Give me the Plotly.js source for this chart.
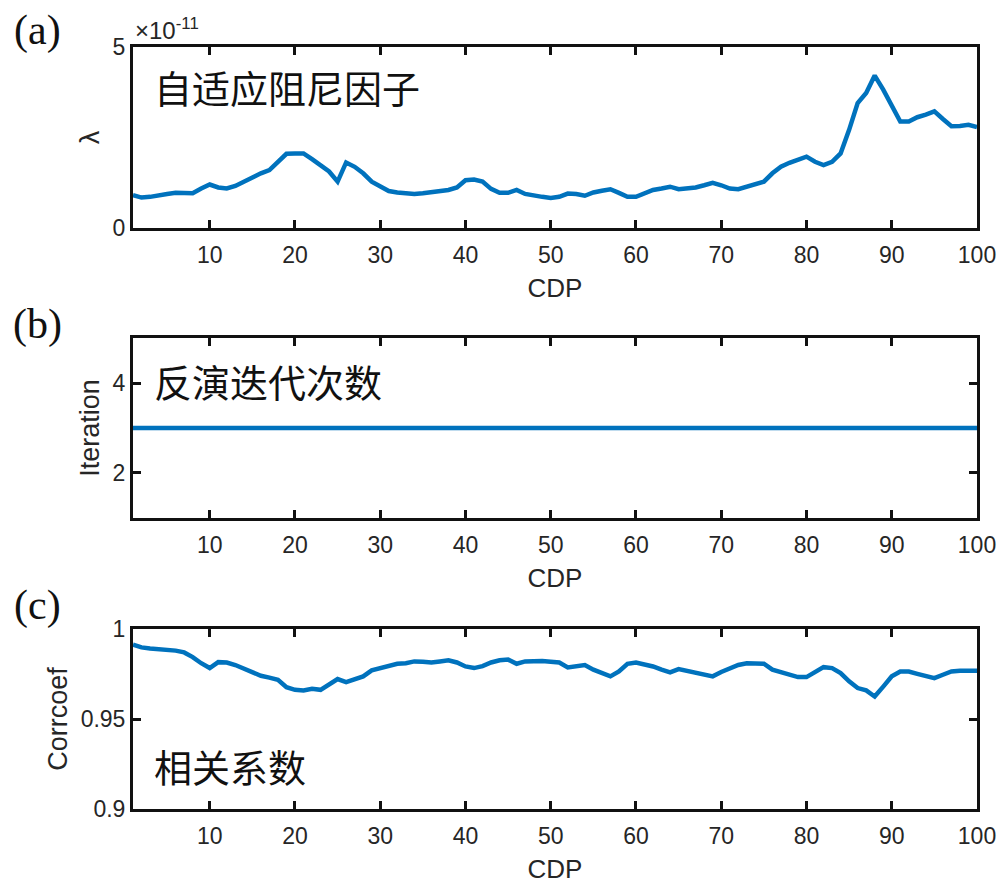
<!DOCTYPE html>
<html>
<head>
<meta charset="utf-8">
<script src="https://cdn.plot.ly/plotly-3.0.1.min.js"></script>
<style>html,body{margin:0;padding:0;background:#fff;}#chart{width:999px;height:884px;}</style>
</head>
<body>
<div id="chart"></div>
<script>
// ---- data ----
const cdp = [1,2,3,4,5,6,7,8,9,10,11,12,13,14,15,16,17,18,19,20,21,22,23,24,25,26,27,28,29,30,
  31,32,33,34,35,36,37,38,39,40,41,42,43,44,45,46,47,48,49,50,51,52,53,54,55,56,57,58,59,60,
  61,62,63,64,65,66,67,68,69,70,71,72,73,74,75,76,77,78,79,80,81,82,83,84,85,86,87,88,89,90,
  91,92,93,94,95,96,97,98,99,100];

// adaptive damping factor, in units of 1e-11
const lambdaVals = [0.91,0.84,0.86,0.91,0.94,0.97,0.97,0.96,1.09,1.20,
  1.12,1.09,1.16,1.28,1.37,1.51,1.60,1.83,2.05,2.06,
  2.06,1.90,1.74,1.56,1.28,1.81,1.69,1.51,1.28,1.14,
  1.02,0.98,0.96,0.94,0.96,0.99,1.03,1.05,1.12,1.32,
  1.34,1.28,1.08,0.97,0.97,1.05,0.94,0.89,0.86,0.83,
  0.86,0.95,0.94,0.89,0.98,1.03,1.07,0.97,0.86,0.86,
  0.97,1.05,1.09,1.14,1.07,1.09,1.12,1.18,1.25,1.18,
  1.09,1.07,1.14,1.23,1.28,1.51,1.69,1.80,1.90,1.97,
  1.83,1.74,1.83,2.06,2.71,3.45,3.73,4.21,3.82,3.36,
  2.94,2.94,3.06,3.13,3.22,3.01,2.81,2.82,2.85,2.79];

const iterationVals = [3,3,3,3,3,3,3,3,3,3,3,3,3,3,3,3,3,3,3,3,
  3,3,3,3,3,3,3,3,3,3,3,3,3,3,3,3,3,3,3,3,
  3,3,3,3,3,3,3,3,3,3,3,3,3,3,3,3,3,3,3,3,
  3,3,3,3,3,3,3,3,3,3,3,3,3,3,3,3,3,3,3,3,
  3,3,3,3,3,3,3,3,3,3,3,3,3,3,3,3,3,3,3,3];

const corrVals = [0.9913,0.9898,0.9892,0.9889,0.9885,0.9880,0.9870,0.9844,0.9810,0.9783,
  0.9816,0.9814,0.9800,0.9780,0.9760,0.9740,0.9730,0.9718,0.9677,0.9662,
  0.9659,0.9668,0.9662,0.9690,0.9722,0.9705,0.9718,0.9737,0.9770,0.9783,
  0.9800,0.9807,0.9810,0.9820,0.9818,0.9814,0.9820,0.9826,0.9814,0.9792,
  0.9783,0.9794,0.9814,0.9826,0.9830,0.9807,0.9820,0.9824,0.9822,0.9818,
  0.9814,0.9787,0.9792,0.9800,0.9774,0.9755,0.9737,0.9764,0.9807,0.9814,
  0.9805,0.9792,0.9774,0.9759,0.9777,0.9768,0.9759,0.9750,0.9737,0.9761,
  0.9783,0.9800,0.9810,0.9807,0.9807,0.9774,0.9759,0.9746,0.9733,0.9733,
  0.9764,0.9788,0.9783,0.9755,0.9709,0.9672,0.9659,0.9625,0.9680,0.9737,
  0.9764,0.9764,0.9751,0.9737,0.9727,0.9746,0.9764,0.9768,0.9768,0.9768];

const xTicks = [10,20,30,40,50,60,70,80,90,100];
const xTickText = ['10','20','30','40','50','60','70','80','90','100'];
const lambdaTicks = [0,5];
const lambdaTickText = ['0','5'];
const iterTicks = [2,4];
const iterTickText = ['2','4'];
const corrTicks = [0.9,0.95,1];
const corrTickText = ['0.9','0.95','1'];

const xTitle = 'CDP';
const yTitles = ['λ', 'Iteration', 'Corrcoef'];
const panelTags = ['(a)', '(b)', '(c)'];
const panelNotes = ['自适应阻尼因子', '反演迭代次数', '相关系数'];

// ---- style ----
const blue = '#0072BD';
const ink = '#262626';
const sans = 'Liberation Sans, Arial, sans-serif';

function xAxis(anchor) {
  return {
    anchor: anchor, range: [1, 100], tickmode: 'array', tickvals: xTicks, ticktext: xTickText,
    ticks: 'inside', ticklen: 8, tickwidth: 3, tickcolor: '#111',
    showline: true, linewidth: 3, linecolor: '#111', mirror: 'ticks',
    showgrid: false, zeroline: false, ticklabelstandoff: 4,
    tickfont: {family: sans, size: 23, color: ink},
    title: {text: xTitle, font: {family: sans, size: 26, color: ink}, standoff: 13}
  };
}
function yAxis(anchor, domain, range, vals, text, title) {
  return {
    anchor: anchor, domain: domain, range: range, tickmode: 'array', tickvals: vals, ticktext: text,
    ticks: 'inside', ticklen: 8, tickwidth: 3, tickcolor: '#111',
    showline: true, linewidth: 3, linecolor: '#111', mirror: 'ticks',
    showgrid: false, zeroline: false,
    tickfont: {family: sans, size: 23, color: ink},
    title: {text: title, font: {family: sans, size: 27, color: ink}, standoff: 6}
  };
}

const traces = [
  {x: cdp, y: lambdaVals, xaxis: 'x', yaxis: 'y', type: 'scatter', mode: 'lines',
   line: {color: blue, width: 4.5}, showlegend: false, hoverinfo: 'skip'},
  {x: cdp, y: iterationVals, xaxis: 'x2', yaxis: 'y2', type: 'scatter', mode: 'lines',
   line: {color: blue, width: 4.5}, showlegend: false, hoverinfo: 'skip'},
  {x: cdp, y: corrVals, xaxis: 'x3', yaxis: 'y3', type: 'scatter', mode: 'lines',
   line: {color: blue, width: 4.5}, showlegend: false, hoverinfo: 'skip'}
];

const tagY = [1.0210, 0.6352, 0.2677];
const noteY = [0.9488, 0.5617, 0.0577];

const annotations = [];
for (let i = 0; i < 3; i++) {
  annotations.push({xref: 'paper', yref: 'paper', x: -0.1137, y: tagY[i], xanchor: 'center', yanchor: 'middle',
    text: panelTags[i], showarrow: false, font: {family: 'Liberation Serif, Times New Roman, serif', size: 42, color: '#111'}});
  annotations.push({xref: 'paper', yref: 'paper', x: 0.022, y: noteY[i], xanchor: 'left', yanchor: 'middle',
    text: panelNotes[i], showarrow: false, font: {family: 'Noto Sans CJK SC, sans-serif', size: 38, color: '#111'}});
}
annotations.push({xref: 'paper', yref: 'paper', x: 0.0, y: 1.024, xanchor: 'left', yanchor: 'middle',
  text: '×10<sup>-11</sup>', showarrow: false, font: {family: sans, size: 24, color: ink}});

const layout = {
  width: 999, height: 884,
  margin: {l: 133, r: 22, t: 47, b: 75},
  paper_bgcolor: '#fff', plot_bgcolor: '#fff',
  showlegend: false,
  xaxis: xAxis('y'),
  xaxis2: xAxis('y2'),
  xaxis3: xAxis('y3'),
  yaxis: yAxis('x', [0.7625, 1], [0, 5], lambdaTicks, lambdaTickText, yTitles[0]),
  yaxis2: yAxis('x2', [0.3819, 0.6181], [1, 5], iterTicks, iterTickText, yTitles[1]),
  yaxis3: yAxis('x3', [0, 0.2362], [0.9, 1], corrTicks, corrTickText, yTitles[2]),
  annotations: annotations
};

Plotly.newPlot('chart', traces, layout, {staticPlot: true, displayModeBar: false});
</script>
</body>
</html>
